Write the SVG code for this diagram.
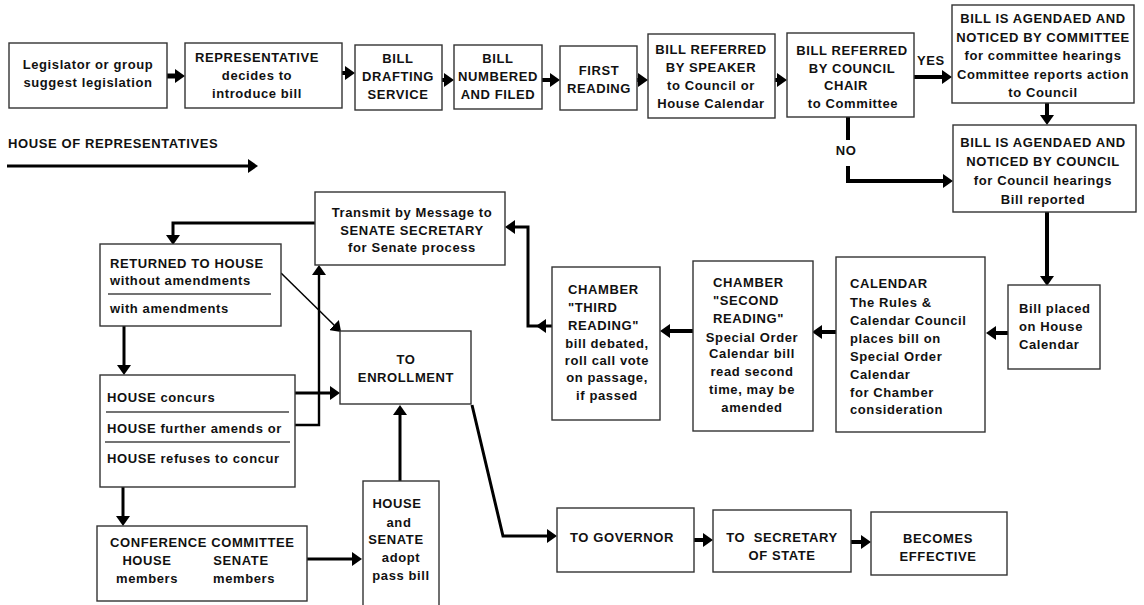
<svg xmlns="http://www.w3.org/2000/svg" width="1144" height="605" viewBox="0 0 1144 605">
  <defs>
    <style>
      .box { fill: #ffffff; stroke: #333333; stroke-width: 1.4; }
      .sep { stroke: #444444; stroke-width: 1.4; }
      text { font-family: "Liberation Sans", Arial, sans-serif; font-weight: bold; font-size: 13px; fill: #111111; letter-spacing: 0.6px; }
      .c { text-anchor: middle; }
      .w5 { fill: none; stroke: #000; stroke-width: 5; }
      .w4 { fill: none; stroke: #000; stroke-width: 4; }
      .w3 { fill: none; stroke: #000; stroke-width: 3; }
      .w2 { fill: none; stroke: #000; stroke-width: 2.4; }
      .w1 { fill: none; stroke: #000; stroke-width: 1.5; }
    </style>
    <marker id="ah" viewBox="0 -7 10 14" refX="0" refY="0" markerWidth="10" markerHeight="14" markerUnits="userSpaceOnUse" orient="auto">
      <path d="M0,-7 L10,0 L0,7 Z" fill="#000"/>
    </marker>
  </defs>

  <rect width="1144" height="605" fill="#ffffff"/>

  <!-- connectors -->
  <g id="connectors">
    <path class="w5" d="M167,76 H175" marker-end="url(#ah)"/>
    <path class="w4" d="M342,73 H345" marker-end="url(#ah)"/>
    <path class="w4" d="M442,80 H444" marker-end="url(#ah)"/>
    <path class="w4" d="M542,80 H550" marker-end="url(#ah)"/>
    <path class="w4" d="M637,80 H638" marker-end="url(#ah)"/>
    <path class="w4" d="M775,80 H777" marker-end="url(#ah)"/>
    <path class="w4" d="M914,77 H942" marker-end="url(#ah)"/>
    <path class="w4" d="M1047,103 V115" marker-end="url(#ah)"/>
    <path class="w4" d="M848,117 V140"/>
    <path class="w4" d="M848,166 V181 H943" marker-end="url(#ah)"/>
    <path class="w3" d="M7,166 H248" marker-end="url(#ah)"/>
    <path class="w4" d="M1047,212 V276" marker-end="url(#ah)"/>
    <path class="w4" d="M1008,333 H996" marker-end="url(#ah)"/>
    <path class="w4" d="M836,332 H822" marker-end="url(#ah)"/>
    <path class="w4" d="M693,331 H670" marker-end="url(#ah)"/>
    <path class="w3" d="M552,326 H528 V227 H515" marker-end="url(#ah)"/>
    <path d="M536,326 L546,319 L546,333 Z" fill="#000"/>
    <path class="w3" d="M315,223 H173 V235" marker-end="url(#ah)"/>
    <path class="w1" d="M281,273 L334,325" marker-end="url(#ah)"/>
    <path class="w2" d="M295,425 H319 V275" marker-end="url(#ah)"/>
    <path class="w3" d="M295,393 H330" marker-end="url(#ah)"/>
    <path class="w3" d="M124,326 V365" marker-end="url(#ah)"/>
    <path class="w3" d="M123,487 V516" marker-end="url(#ah)"/>
    <path class="w3" d="M307,559 H352" marker-end="url(#ah)"/>
    <path class="w3" d="M400,481 V415" marker-end="url(#ah)"/>
    <path class="w3" d="M472,405 L503,536 H547" marker-end="url(#ah)"/>
    <path class="w4" d="M694,540 H703" marker-end="url(#ah)"/>
    <path class="w4" d="M851,542 H861" marker-end="url(#ah)"/>
  </g>

  <!-- labels on connectors -->
  <text x="931" y="65" class="c">YES</text>
  <text x="846" y="155" class="c">NO</text>
  <text x="8" y="148">HOUSE OF REPRESENTATIVES</text>

  <g id="n-legislator">
    <rect class="box" x="9" y="43" width="158" height="65"/>
    <text x="88" y="69" class="c">Legislator or group</text>
    <text x="88" y="87" class="c">suggest legislation</text>
  </g>

  <g id="n-representative">
    <rect class="box" x="185" y="43" width="157" height="65"/>
    <text x="257" y="62" class="c">REPRESENTATIVE</text>
    <text x="257" y="80" class="c">decides to</text>
    <text x="257" y="98" class="c">introduce bill</text>
  </g>

  <g id="n-drafting">
    <rect class="box" x="355" y="45" width="87" height="65"/>
    <text x="398" y="63" class="c">BILL</text>
    <text x="398" y="81" class="c">DRAFTING</text>
    <text x="398" y="99" class="c">SERVICE</text>
  </g>

  <g id="n-numbered">
    <rect class="box" x="454" y="45" width="88" height="64"/>
    <text x="498" y="63" class="c">BILL</text>
    <text x="498" y="81" class="c">NUMBERED</text>
    <text x="498" y="99" class="c">AND FILED</text>
  </g>

  <g id="n-first-reading">
    <rect class="box" x="560" y="46" width="77" height="64"/>
    <text x="599" y="75" class="c">FIRST</text>
    <text x="599" y="93" class="c">READING</text>
  </g>

  <g id="n-speaker">
    <rect class="box" x="648" y="34" width="127" height="84"/>
    <text x="711" y="54" class="c">BILL REFERRED</text>
    <text x="711" y="72" class="c">BY SPEAKER</text>
    <text x="711" y="90" class="c">to Council or</text>
    <text x="711" y="108" class="c">House Calendar</text>
  </g>

  <g id="n-council-chair">
    <rect class="box" x="787" y="33" width="127" height="84"/>
    <text x="852" y="55" class="c">BILL REFERRED</text>
    <text x="852" y="73" class="c">BY COUNCIL</text>
    <text x="846" y="90" class="c">CHAIR</text>
    <text x="853" y="108" class="c">to Committee</text>
  </g>

  <g id="n-committee">
    <rect class="box" x="952" y="5" width="182" height="98"/>
    <text x="1043" y="23" class="c">BILL IS AGENDAED AND</text>
    <text x="1043" y="42" class="c">NOTICED BY COMMITTEE</text>
    <text x="1043" y="60" class="c">for committee hearings</text>
    <text x="1043" y="79" class="c">Committee reports action</text>
    <text x="1043" y="97" class="c">to Council</text>
  </g>

  <g id="n-council">
    <rect class="box" x="953" y="125" width="183" height="87"/>
    <text x="1043" y="147" class="c">BILL IS AGENDAED AND</text>
    <text x="1043" y="166" class="c">NOTICED BY COUNCIL</text>
    <text x="1043" y="185" class="c">for Council hearings</text>
    <text x="1043" y="204" class="c">Bill reported</text>
  </g>

  <g id="n-house-calendar">
    <rect class="box" x="1008" y="285" width="92" height="84"/>
    <text x="1019" y="313">Bill placed</text>
    <text x="1019" y="331">on House</text>
    <text x="1019" y="349">Calendar</text>
  </g>

  <g id="n-calendar">
    <rect class="box" x="836" y="257" width="149" height="175"/>
    <text x="850" y="288">CALENDAR</text>
    <text x="850" y="307">The Rules &amp;</text>
    <text x="850" y="325">Calendar Council</text>
    <text x="850" y="343">places bill on</text>
    <text x="850" y="361">Special Order</text>
    <text x="850" y="379">Calendar</text>
    <text x="850" y="397">for Chamber</text>
    <text x="850" y="414">consideration</text>
  </g>

  <g id="n-second-reading">
    <rect class="box" x="693" y="261" width="120" height="170"/>
    <text x="713" y="287">CHAMBER</text>
    <text x="713" y="305">"SECOND</text>
    <text x="713" y="323">READING"</text>
    <text x="752" y="342" class="c">Special Order</text>
    <text x="752" y="358" class="c">Calendar bill</text>
    <text x="752" y="376" class="c">read second</text>
    <text x="752" y="394" class="c">time, may be</text>
    <text x="752" y="412" class="c">amended</text>
  </g>

  <g id="n-third-reading">
    <rect class="box" x="552" y="267" width="108" height="153"/>
    <text x="568" y="294">CHAMBER</text>
    <text x="568" y="312">"THIRD</text>
    <text x="568" y="330">READING"</text>
    <text x="607" y="348" class="c">bill debated,</text>
    <text x="607" y="365" class="c">roll call vote</text>
    <text x="607" y="382" class="c">on passage,</text>
    <text x="607" y="400" class="c">if passed</text>
  </g>

  <g id="n-transmit">
    <rect class="box" x="315" y="192" width="190" height="73"/>
    <text x="412" y="217" class="c">Transmit by Message to</text>
    <text x="412" y="235" class="c">SENATE SECRETARY</text>
    <text x="412" y="252" class="c">for Senate process</text>
  </g>

  <g id="n-returned">
    <rect class="box" x="100" y="244" width="181" height="82"/>
    <text x="110" y="268">RETURNED TO HOUSE</text>
    <text x="110" y="285">without amendments</text>
    <line class="sep" x1="108" y1="294" x2="271" y2="294"/>
    <text x="110" y="313">with amendments</text>
  </g>

  <g id="n-house-action">
    <rect class="box" x="100" y="375" width="195" height="112"/>
    <text x="107" y="402">HOUSE concurs</text>
    <line class="sep" x1="106" y1="412" x2="289" y2="412"/>
    <text x="107" y="433">HOUSE further amends or</text>
    <line class="sep" x1="105" y1="442" x2="290" y2="442"/>
    <text x="107" y="463">HOUSE refuses to concur</text>
  </g>

  <g id="n-enrollment">
    <rect class="box" x="340" y="331" width="131" height="73"/>
    <text x="406" y="364" class="c">TO</text>
    <text x="406" y="382" class="c">ENROLLMENT</text>
  </g>

  <g id="n-conference">
    <rect class="box" x="97" y="526" width="210" height="75"/>
    <text x="110" y="547">CONFERENCE COMMITTEE</text>
    <text x="147" y="565" class="c">HOUSE</text>
    <text x="241" y="565" class="c">SENATE</text>
    <text x="147" y="583" class="c">members</text>
    <text x="244" y="583" class="c">members</text>
  </g>

  <g id="n-adopt">
    <rect class="box" x="363" y="481" width="76" height="130"/>
    <text x="397" y="508" class="c">HOUSE</text>
    <text x="399" y="527" class="c">and</text>
    <text x="396" y="544" class="c">SENATE</text>
    <text x="401" y="562" class="c">adopt</text>
    <text x="401" y="580" class="c">pass bill</text>
  </g>

  <g id="n-governor">
    <rect class="box" x="557" y="508" width="137" height="64"/>
    <text x="622" y="542" class="c">TO GOVERNOR</text>
  </g>

  <g id="n-secretary">
    <rect class="box" x="713" y="510" width="138" height="62"/>
    <text x="782" y="542" class="c" xml:space="preserve">TO  SECRETARY</text>
    <text x="782" y="560" class="c">OF STATE</text>
  </g>

  <g id="n-effective">
    <rect class="box" x="871" y="512" width="136" height="63"/>
    <text x="938" y="543" class="c">BECOMES</text>
    <text x="938" y="561" class="c">EFFECTIVE</text>
  </g>
</svg>
